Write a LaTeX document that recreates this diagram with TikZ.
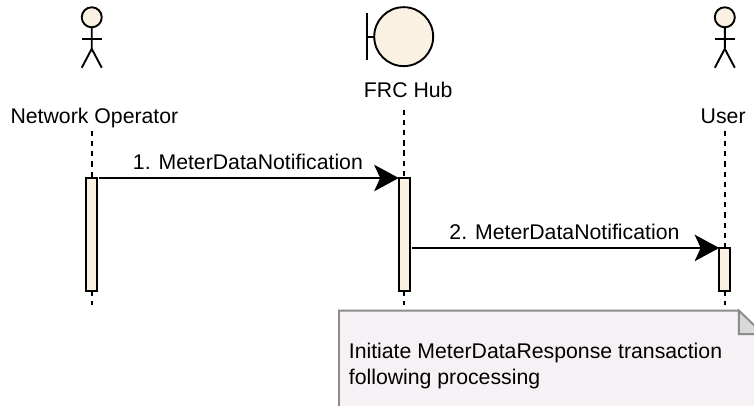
\documentclass[tikz,border=0pt]{standalone}
\usepackage{fontspec}
\setmainfont{Liberation Sans}
\usepackage{xcolor}
\usetikzlibrary{arrows.meta,calc,positioning}
\definecolor{barfill}{HTML}{FBF1E3}
\definecolor{notefill}{HTML}{F5F1F5}
\definecolor{foldfill}{HTML}{D9D9DB}
\definecolor{noteline}{HTML}{8C8C8C}
\tikzset{
  actorline/.style={line width=.05cm, black},
  head/.style={draw, circle, line width=.05cm, fill=barfill, inner sep=0, outer sep=0},
  bar/.style={draw, line width=.05cm, fill=barfill, minimum width=.29cm, inner sep=0, outer sep=0},
  lifeline/.style={line width=.05cm, dash pattern=on .14cm off .13cm, shorten <=.08cm},
  msg/.style={line width=.05cm, -{Stealth[length=.65cm,width=.7cm,inset=.16cm]}},
  actorlabel/.style={inner sep=0, outer sep=0, text height=.4cm, text depth=.1cm},
  msglabel/.style={inner sep=0, outer sep=0},
  notebody/.style={draw=noteline, line width=.05cm, fill=notefill},
  notefold/.style={draw=noteline, line width=.05cm, fill=foldfill},
}
\begin{document}
\begin{tikzpicture}[font=\fontsize{16}{19}\selectfont]
\useasboundingbox (0,0) rectangle (19.95,-10.74);

\coordinate(O1) at (0,0);

\node[below right=.27cm and 2.24cm of O1,head,minimum size=.53cm](opHead) {};
\node[below right=.27cm and 18.99cm of O1,head,minimum size=.53cm](userHead) {};
\node[below right=.418cm and 10.13cm of O1,head,minimum size=1.56cm](hub) {};

\node[below right=2.88cm and .28cm of O1,actorlabel](opLabel) {Network Operator};
\node[below right=2.19cm and 9.63cm of O1,actorlabel](hubLabel) {FRC Hub};
\node[below right=2.88cm and 18.54cm of O1,actorlabel](userLabel) {User};

\node[below right=4.71cm and 2.28cm of O1,bar,minimum height=2.99cm](opBar) {};
\node[below right=4.71cm and 10.55cm of O1,bar,minimum height=2.99cm](hubBar) {};
\node[below right=6.56cm and 19.03cm of O1,bar,minimum height=1.14cm](userBar) {};

\node[coordinate,below=.37cm of opBar](opEnd) {};
\node[coordinate,below=.37cm of hubBar](hubEnd) {};
\node[coordinate,below=.37cm of userBar](userEnd) {};
\node[coordinate,left=.19cm of hub](hubStem) {};

\foreach \h in {opHead,userHead} {
  \draw[actorline] (\h.south) -- ++(0,-.57) -- ++(-.265,-.5) ++(.265,.5) -- ++(.265,-.5);
  \draw[actorline] ([shift={(-.265,-.3)}]\h.south) -- ++(.53,0);
}
\draw[actorline] (hub.west) -- (hubStem);
\draw[actorline] ([yshift=.63cm]hubStem) -- ([yshift=-.63cm]hubStem);

\draw[lifeline] (opBar.north |- opLabel.south) -- (opBar.north);
\draw[lifeline, shorten <=.21cm] (hubBar.north |- hubLabel.south) -- (hubBar.north);
\draw[lifeline] (userBar.north |- userLabel.south) -- (userBar.north);
\draw[lifeline, shorten <=0cm] (opBar.south) -- (opEnd);
\draw[lifeline, shorten <=0cm] (hubBar.south) -- (hubEnd);
\draw[lifeline, shorten <=0cm] (userBar.south) -- (userEnd);

\draw[msg, shorten <=.05cm] (opBar.north east) -- node[above=.21cm,msglabel] {1. MeterDataNotification} (hubBar.north west);
\draw[msg, shorten <=.05cm] ($(hubBar.north east)!(userBar.north west)!(hubBar.south east)$) -- node[above=.21cm,msglabel] {2. MeterDataNotification} (userBar.north west);

\draw[notebody] (8.97,-8.22) -- (19.55,-8.22) -- (20.2,-8.87) -- (20.2,-11) -- (8.97,-11) -- cycle;
\draw[notefold] (19.55,-8.22) -- (19.55,-8.84) -- (20.2,-8.84) -- cycle;
\node[below right=9.09cm and 9.23cm of O1,msglabel,align=left](noteText) {Initiate MeterDataResponse transaction\\following processing};
\end{tikzpicture}
\end{document}
